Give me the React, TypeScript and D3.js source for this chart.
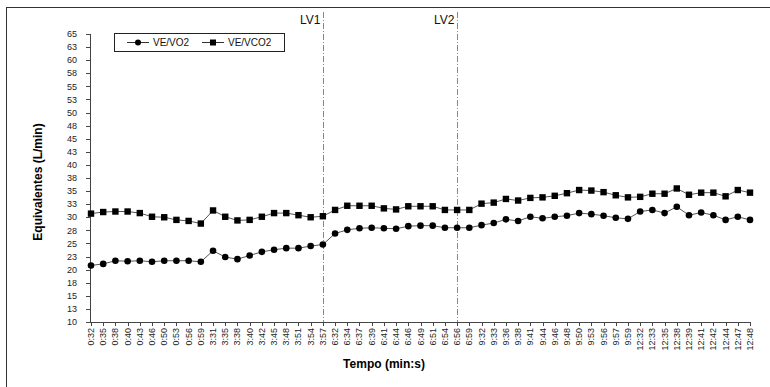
import React from "react";
import * as d3 from "d3";

const times = [
  "0:32", "0:35", "0:38", "0:40", "0:43", "0:46", "0:50", "0:53", "0:56", "0:59",
  "3:31", "3:35", "3:38", "3:40", "3:42", "3:45", "3:48", "3:51", "3:54", "3:57",
  "6:32", "6:34", "6:37", "6:39", "6:41", "6:44", "6:46", "6:49", "6:51", "6:54", "6:56", "6:59",
  "9:32", "9:33", "9:36", "9:38", "9:41", "9:44", "9:46", "9:48", "9:50", "9:53", "9:56", "9:57", "9:59",
  "12:32", "12:33", "12:35", "12:38", "12:39", "12:41", "12:42", "12:44", "12:47", "12:48",
];

const veVo2 = [
  20.8, 21.1, 21.7, 21.6, 21.7, 21.5, 21.7, 21.7, 21.7, 21.5,
  23.6, 22.4, 22.0, 22.7, 23.4, 23.8, 24.1, 24.1, 24.5, 24.8,
  26.9, 27.6, 27.9, 28.0, 27.9, 27.8, 28.3, 28.4, 28.4, 28.0,
  28.0, 28.0, 28.5, 28.9, 29.6, 29.3, 30.1, 29.8, 30.1, 30.3,
  30.8, 30.6, 30.3, 29.9, 29.7, 31.1, 31.4, 30.8, 32.0, 30.4,
  30.9, 30.4, 29.5, 30.1, 29.5,
];

const veVco2 = [
  30.7, 31.0, 31.1, 31.1, 30.8, 30.1, 30.0, 29.5, 29.3, 28.8,
  31.3, 30.1, 29.4, 29.5, 30.1, 30.8, 30.8, 30.4, 30.0, 30.2,
  31.4, 32.2, 32.2, 32.2, 31.7, 31.5, 32.1, 32.1, 32.1, 31.4,
  31.4, 31.4, 32.6, 32.8, 33.5, 33.2, 33.7, 33.8, 34.1, 34.6,
  35.2, 35.1, 34.8, 34.2, 33.8, 33.9, 34.5, 34.5, 35.5, 34.3,
  34.7, 34.7, 34.0, 35.2, 34.7,
];

const yTickValues = [10, 12.5, 15, 17.5, 20, 22.5, 25, 27.5, 30, 32.5, 35, 37.5, 40, 42.5, 45, 47.5, 50, 52.5, 55, 57.5, 60, 62.5, 65];
const yTickLabels = ["10", "13", "15", "18", "20", "23", "25", "28", "30", "33", "35", "38", "40", "43", "45", "48", "50", "53", "55", "58", "60", "63", "65"];

const thresholds = [
  { label: "LV1", at: "3:57" },
  { label: "LV2", at: "6:56" },
];

const seriesNames = ["VE/VO2", "VE/VCO2"];

const W = 770;
const H = 387;
const FONT = "Arial, 'Liberation Sans', Helvetica, sans-serif";

export default function App() {
  const x = d3.scalePoint<string>().domain(times).range([91, 750]);
  const y = d3.scaleLinear().domain([10, 65]).range([322, 34]);
  const axisX0 = 90;
  const axisX1 = 750;
  const axisY = y(10);

  const line = d3
    .line<number>()
    .x((_, i) => x(times[i]) as number)
    .y((d) => y(d));

  const sq = 6.4;

  return (
    <svg
      width={W}
      height={H}
      style={{ position: "absolute", left: 0, top: 0, background: "#fff" }}
      fontFamily={FONT}
    >
      <rect x={0} y={0} width={W} height={H} fill="#fff" />
      {/* outer frame */}
      <line x1={6} y1={7.5} x2={W} y2={7.5} stroke="#333" strokeWidth={1} />
      <line x1={6.5} y1={7} x2={6.5} y2={H} stroke="#333" strokeWidth={1} />

      {/* threshold lines */}
      {thresholds.map((t) => {
        const tx = Math.round(x(t.at) as number) + 0.5;
        return (
          <g key={t.label}>
            <line x1={tx} y1={12} x2={tx} y2={axisY} stroke="#888" strokeWidth={1} strokeDasharray="6,2,1,2" />
            <text x={tx - 3} y={24} textAnchor="end" fontSize={12} fill="#111">
              {t.label}
            </text>
          </g>
        );
      })}

      {/* y axis */}
      <line x1={axisX0 + 0.5} y1={y(65)} x2={axisX0 + 0.5} y2={axisY} stroke="#444" strokeWidth={1} />
      {yTickValues.map((v, i) => (
        <g key={v}>
          <line x1={axisX0 - 4} y1={Math.round(y(v)) + 0.5} x2={axisX0} y2={Math.round(y(v)) + 0.5} stroke="#444" strokeWidth={1} />
          <text x={77} y={y(v)} dy="0.35em" textAnchor="end" fontSize={9} fill="#222">
            {yTickLabels[i]}
          </text>
        </g>
      ))}

      {/* x axis */}
      <line x1={axisX0} y1={Math.round(axisY) + 0.5} x2={axisX1 + 0.5} y2={Math.round(axisY) + 0.5} stroke="#444" strokeWidth={1} />
      {times.map((t) => {
        const tx = Math.round(x(t) as number) + 0.5;
        return (
          <g key={t}>
            <line x1={tx} y1={axisY} x2={tx} y2={axisY + 4} stroke="#444" strokeWidth={1} />
            <text
              transform={`translate(${(x(t) as number) + 3},${axisY + 6}) rotate(-90)`}
              textAnchor="end"
              fontSize={9}
              fill="#222"
            >
              {t}
            </text>
          </g>
        );
      })}

      {/* series */}
      <path d={line(veVco2) as string} fill="none" stroke="#555" strokeWidth={1} />
      <path d={line(veVo2) as string} fill="none" stroke="#555" strokeWidth={1} />
      {veVco2.map((v, i) => (
        <rect key={`s${i}`} x={(x(times[i]) as number) - sq / 2} y={y(v) - sq / 2} width={sq} height={sq} fill="#000" />
      ))}
      {veVo2.map((v, i) => (
        <circle key={`c${i}`} cx={x(times[i]) as number} cy={y(v)} r={3.3} fill="#000" />
      ))}

      {/* legend */}
      <g>
        <rect x={114.5} y={33.5} width={170} height={18} fill="#fff" stroke="#222" strokeWidth={1} />
        <line x1={127} y1={42.5} x2={149} y2={42.5} stroke="#333" strokeWidth={1} />
        <circle cx={138} cy={42.5} r={3} fill="#000" />
        <text x={153} y={42.5} dy="0.35em" fontSize={10} fill="#111">{seriesNames[0]}</text>
        <line x1={202} y1={42.5} x2={224} y2={42.5} stroke="#333" strokeWidth={1} />
        <rect x={210} y={39.5} width={6} height={6} fill="#000" />
        <text x={228} y={42.5} dy="0.35em" fontSize={10} fill="#111">{seriesNames[1]}</text>
      </g>

      {/* axis titles */}
      <text
        transform={`translate(42,182) rotate(-90)`}
        textAnchor="middle"
        fontSize={12}
        fontWeight="bold"
        fill="#000"
      >
        Equivalentes (L/min)
      </text>
      <text x={384} y={368} textAnchor="middle" fontSize={12} fontWeight="bold" fill="#000">
        Tempo (min:s)
      </text>
    </svg>
  );
}
